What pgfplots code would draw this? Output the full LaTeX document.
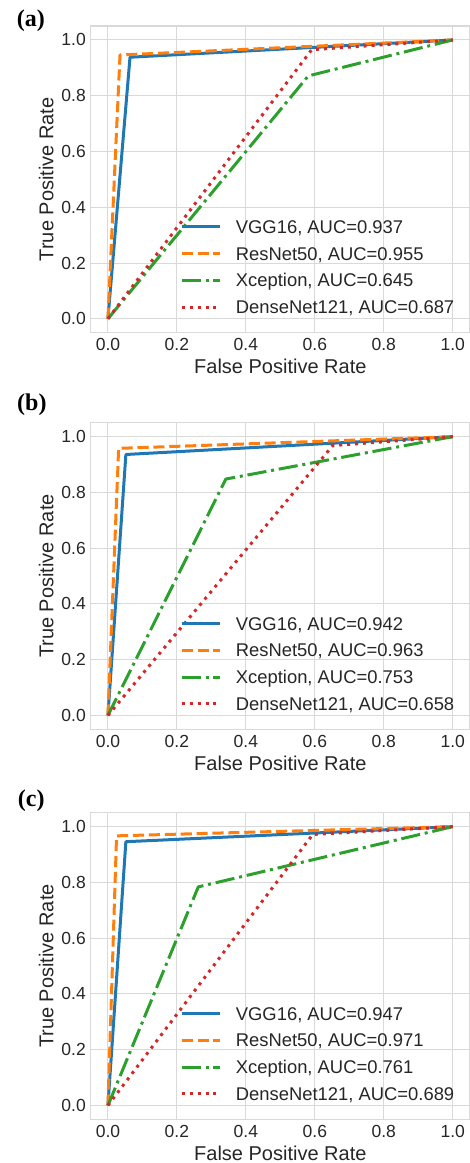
\documentclass[border=0pt]{standalone}
\usepackage{fontspec}
\setmainfont{Liberation Sans}
\newfontfamily\panelfont{Liberation Serif}
\usepackage{pgfplots}
\pgfplotsset{compat=1.18}

\definecolor{tabblue}{HTML}{1F77B4}
\definecolor{taborange}{HTML}{FF7F0E}
\definecolor{tabgreen}{HTML}{2CA02C}
\definecolor{tabred}{HTML}{D62728}
\definecolor{txt}{HTML}{262626}
\definecolor{gridc}{HTML}{D9D9D9}

\pgfplotsset{
  roc/.style={
    width=379.3pt, height=306.7pt, scale only axis,
    xmin=-0.05, xmax=1.05, ymin=-0.05, ymax=1.05,
    enlargelimits=false,
    xtick={0,0.2,0.4,0.6,0.8,1}, ytick={0,0.2,0.4,0.6,0.8,1},
    xticklabels={0.0,0.2,0.4,0.6,0.8,1.0},
    yticklabels={0.0,0.2,0.4,0.6,0.8,1.0},
    grid=major, major grid style={gridc, line width=1pt},
    axis line style={gridc, line width=1.25pt},
    major tick length=0pt,
    tick label style={font=\fontsize{17.5}{17.5}\selectfont, text=txt, inner sep=0pt},
    xticklabel style={anchor=north, yshift=-5.6pt},
    yticklabel style={anchor=east, xshift=-4.7pt},
    label style={font=\fontsize{20}{20}\selectfont, text=txt},
    xlabel={False Positive Rate}, ylabel={True Positive Rate},
    xlabel style={at={(axis description cs:0.5,-0.1324)}, anchor=base, inner sep=0pt},
    ylabel style={at={(axis description cs:-0.0986,0.5)}, anchor=base, inner sep=0pt},
    legend cell align=left,
    legend style={draw=none, fill=none, at={(0.2354,0.3671)}, anchor=north west,
      inner sep=0pt, row sep=13.5pt, column sep=0pt,
      nodes={inner sep=0pt, text height=13.2pt, text depth=0pt,
        font=\fontsize{18.4}{18.4}\selectfont, text=txt}},
    legend image code/.code={\draw[#1] (0pt,0pt) -- (38pt,0pt); \path (52.7pt,0pt);},
    every axis plot/.append style={line width=3pt, line join=round, no markers},
  },
  vgg/.style={tabblue},
  res/.style={taborange, dash pattern=on 11.1pt off 4.8pt},
  xce/.style={tabgreen, dash pattern=on 19.2pt off 4.8pt on 3pt off 4.8pt},
  den/.style={tabred, dash pattern=on 3pt off 4.95pt},
}

\begin{document}
\begin{tikzpicture}
\path[use as bounding box] (0pt,0pt) rectangle (470pt,-1163pt);

% (a)
\node[anchor=base west, inner sep=0pt, font=\panelfont\bfseries\fontsize{24}{24}\selectfont] at (16.7pt,-26.7pt) {(a)};
\begin{axis}[roc, at={(90.7pt,-26pt)}, anchor=north west]
  \addplot[vgg] coordinates {(0,0) (0.064,0.938) (1,1)};
  \addplot[res] coordinates {(0,0) (0.035,0.946) (1,1)};
  \addplot[xce] coordinates {(0,0) (0.581,0.871) (1,1)};
  \addplot[den] coordinates {(0,0) (0.591,0.965) (1,1)};
  \legend{{VGG16, AUC=0.937},{ResNet50, AUC=0.955},{Xception, AUC=0.645},{DenseNet121, AUC=0.687}}
\end{axis}

% (b)
\node[anchor=base west, inner sep=0pt, font=\panelfont\bfseries\fontsize{24}{24}\selectfont] at (17pt,-410.7pt) {(b)};
\begin{axis}[roc, at={(90.7pt,-422.7pt)}, anchor=north west]
  \addplot[vgg] coordinates {(0,0) (0.052,0.936) (1,1)};
  \addplot[res] coordinates {(0,0) (0.031,0.958) (1,1)};
  \addplot[xce] coordinates {(0,0) (0.342,0.848) (1,1)};
  \addplot[den] coordinates {(0,0) (0.652,0.968) (1,1)};
  \legend{{VGG16, AUC=0.942},{ResNet50, AUC=0.963},{Xception, AUC=0.753},{DenseNet121, AUC=0.658}}
\end{axis}

% (c)
\node[anchor=base west, inner sep=0pt, font=\panelfont\bfseries\fontsize{24}{24}\selectfont] at (17.7pt,-806.7pt) {(c)};
\begin{axis}[roc, at={(90.7pt,-812.7pt)}, anchor=north west]
  \addplot[vgg] coordinates {(0,0) (0.052,0.946) (1,1)};
  \addplot[res] coordinates {(0,0) (0.025,0.967) (1,1)};
  \addplot[xce] coordinates {(0,0) (0.262,0.784) (1,1)};
  \addplot[den] coordinates {(0,0) (0.594,0.972) (1,1)};
  \legend{{VGG16, AUC=0.947},{ResNet50, AUC=0.971},{Xception, AUC=0.761},{DenseNet121, AUC=0.689}}
\end{axis}
\end{tikzpicture}
\end{document}
